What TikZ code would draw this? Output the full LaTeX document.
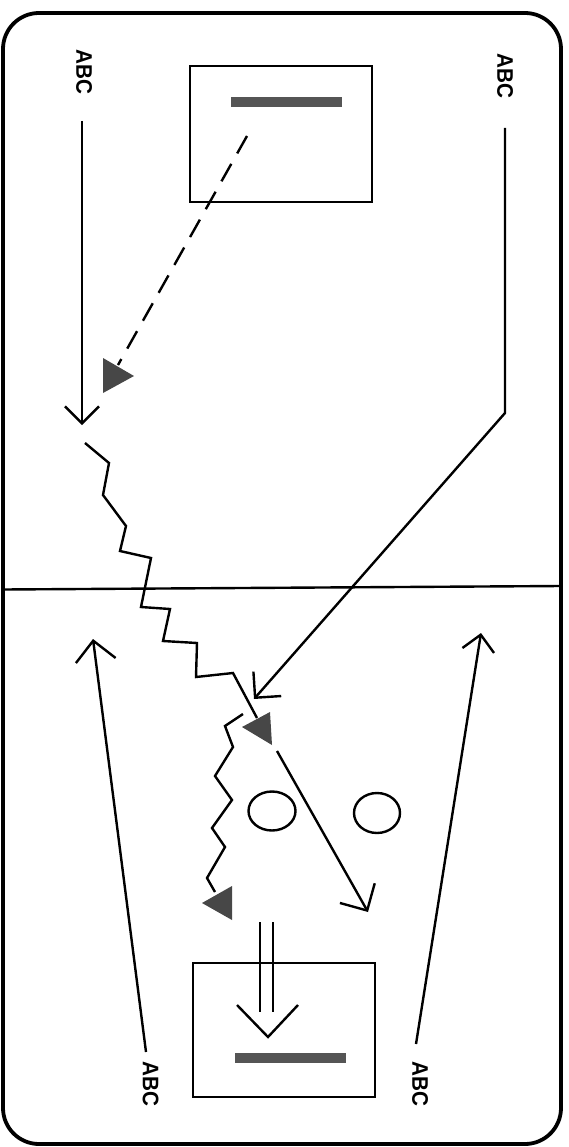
\documentclass[tikz,border=0pt]{standalone}
\usepackage{fontspec}
\newfontfamily\abcfont[FakeStretch=0.92]{Liberation Sans}
\usetikzlibrary{arrows.meta,shapes.geometric}
\definecolor{playerfill}{HTML}{474747}
\definecolor{barfill}{HTML}{555555}
\begin{document}
\begin{tikzpicture}[x=1pt,y=-1pt,
  ln/.style={line width=2.4pt},
  frame/.style={line width=3.8pt, rounded corners=36pt},
  lbl/.style={font=\abcfont\bfseries\fontsize{22.5}{22.5}\selectfont, rotate=-90, inner sep=0pt},
  box/.style={draw, line width=2.4pt, minimum width=182pt, minimum height=135pt, inner sep=0pt},
  bar/.style={fill=barfill, minimum width=111pt, minimum height=10pt, inner sep=0pt},
  disc/.style={draw, ellipse, line width=2.4pt, inner sep=0pt},
  player/.style={fill=playerfill},
  dashline/.style={line width=2.4pt, dash pattern=on 20pt off 12pt}
]
\useasboundingbox (0,0) rectangle (569,1147);

% frame and middle line
\draw[frame] (3,13) rectangle (561,1144);
\coordinate (mL) at (3,589.5);
\coordinate (mR) at (561,586);
\draw[ln] (mL) -- (mR);

% boxes with bars
\node[box, minimum height=136pt] (topbox) at (281,134) {};
\node[bar] (topbar) at (286.5,102.5) {};
\node[box, minimum height=134pt] (botbox) at (284,1030) {};
\node[bar] (botbar) at (290,1058) {};

% labels
\node[lbl] (lblTL) at (84,72) {ABC};
\node[lbl] (lblTR) at (505,76) {ABC};
\node[lbl] (lblBL) at (150.5,1084) {ABC};
\node[lbl] (lblBR) at (420,1084) {ABC};

% discs
\node[disc, minimum width=47pt, minimum height=39pt] (disc1) at (272,811) {};
\node[disc, minimum width=46pt, minimum height=40pt] (disc2) at (377,813) {};

% players (triangles)
\fill[player] (103,358) -- (103,393) -- (134,376) -- cycle;
\fill[player] (242,727) -- (270,712) -- (272,745) -- cycle;
\fill[player] (202,903) -- (232,886) -- (232,920) -- cycle;

% coordinates
\coordinate (tlS) at (82,121);
\coordinate (tlE) at (82,425);
\coordinate (trS) at (505,128);
\coordinate (trK) at (505,413);
\coordinate (trE) at (254,699);
\coordinate (dS) at (247,136);
\coordinate (dE) at (118,365);
\coordinate (rS) at (277,751);
\coordinate (rE) at (368,912);
\coordinate (blS) at (146,1052);
\coordinate (blE) at (93,639);
\coordinate (brS) at (416,1044);
\coordinate (brE) at (481,633);
\coordinate (d1S) at (260,922);
\coordinate (d1E) at (260,1012);
\coordinate (d2S) at (273,922);
\coordinate (d2E) at (273,1012);
\coordinate (cA) at (237,1005);
\coordinate (cT) at (268,1037);
\coordinate (cB) at (298,1005);

% straight runs
\draw[ln, -{Straight Barb[length=17pt,width=34pt]}] (tlS) -- (tlE);
\draw[ln, -{Straight Barb[length=18.5pt,width=37pt]}] (trS) -- (trK) -- (trE);
\draw[ln, -{Straight Barb[length=20pt,width=40pt]}] (rS) -- (rE);
\draw[ln, -{Straight Barb[length=20pt,width=40pt]}] (blS) -- (blE);
\draw[ln, -{Straight Barb[length=16pt,width=32pt]}] (brS) -- (brE);

% pass (dashed)
\draw[dashline] (dS) -- (dE);

% dribbles (zigzag)
\draw[ln, line join=miter] (85,443) -- (109,463) -- (103,495) -- (126,526) -- (120,551)
  -- (151,558) -- (141,607) -- (170,609) -- (163,641) -- (197,643) -- (196,677)
  -- (233,673) -- (257,718);
\draw[ln, line join=miter] (243,714) -- (225,726) -- (233,747) -- (215,776) -- (232,800)
  -- (212,828) -- (225,847) -- (207,878) -- (215,892);

% double arrow (shot)
\draw[ln] (d1S) -- (d1E);
\draw[ln] (d2S) -- (d2E);
\draw[ln, line join=miter] (cA) -- (cT) -- (cB);
\end{tikzpicture}
\end{document}
